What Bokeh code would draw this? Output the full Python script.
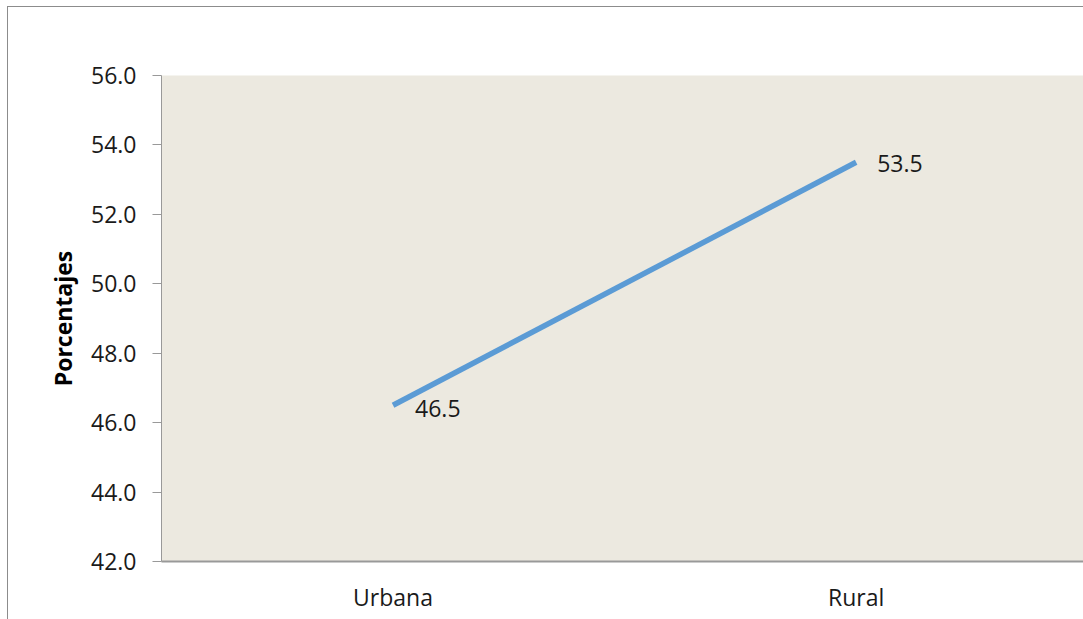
from bokeh.plotting import figure
from bokeh.models import Range1d, FixedTicker, ColumnDataSource
from bokeh.core.properties import value
from bokeh.embed import file_html
from bokeh.resources import INLINE

categories = ["Urbana", "Rural"]
values = [46.5, 53.5]
labels = ["46.5", "53.5"]
y_ticks = [42, 44, 46, 48, 50, 52, 54, 56]

xpos = [i + 0.5 for i in range(len(categories))]
src = ColumnDataSource(dict(x=xpos, y=values, t=labels))

FONT = "Open Sans"
FS = "23px"

p = figure(width=1075, height=612, output_backend="svg", toolbar_location=None,
           x_range=Range1d(0, 1.991), y_range=Range1d(42, 56),
           min_border_left=153, min_border_top=68, min_border_bottom=58, min_border_right=0)
p.styles = {"outline": "1px solid #8c8c8c", "margin-left": "8px", "margin-top": "7px"}
p.background_fill_color = "#ECE9E0"
p.border_fill_color = "white"
p.outline_line_color = None
p.grid.visible = False

p.line("x", "y", source=src, line_color="#5B9BD5", line_width=5.5)
p.text(x=[xpos[0]], y=[values[0]], text=[labels[0]], x_offset=22, y_offset=3,
       text_baseline="middle", text_align="left", text_font=value(FONT),
       text_font_size=FS, text_color="#1a1a1a")
p.text(x=[xpos[1]], y=[values[1]], text=[labels[1]], x_offset=21, y_offset=1,
       text_baseline="middle", text_align="left", text_font=value(FONT),
       text_font_size=FS, text_color="#1a1a1a")

p.yaxis.ticker = FixedTicker(ticks=y_ticks)
p.yaxis.major_label_overrides = {t: f"{t:.1f}" for t in y_ticks}
p.yaxis.minor_tick_line_color = None
p.yaxis.major_tick_out = 9
p.yaxis.major_tick_in = 0
p.yaxis.axis_line_color = "#999999"
p.yaxis.major_tick_line_color = "#999999"
p.yaxis.major_label_standoff = 16
p.yaxis.major_label_text_font = FONT
p.yaxis.major_label_text_font_size = FS
p.yaxis.major_label_text_color = "#1a1a1a"
p.yaxis.axis_label = "Porcentajes"
p.yaxis.axis_label_text_font = FONT
p.yaxis.axis_label_text_font_style = "bold"
p.yaxis.axis_label_text_font_size = "23px"
p.yaxis.axis_label_text_color = "black"
p.yaxis.axis_label_standoff = 9

p.xaxis.ticker = FixedTicker(ticks=xpos)
p.xaxis.major_label_overrides = {x: c for x, c in zip(xpos, categories)}
p.xaxis.minor_tick_line_color = None
p.xaxis.major_tick_out = 0
p.xaxis.major_tick_in = 0
p.xaxis.axis_line_color = "#999999"
p.xaxis.axis_line_width = 2
p.xaxis.major_label_standoff = 19
p.xaxis.major_label_text_font = FONT
p.xaxis.major_label_text_font_size = FS
p.xaxis.major_label_text_color = "#1a1a1a"

open("out.html", "w").write(file_html(p, INLINE))
